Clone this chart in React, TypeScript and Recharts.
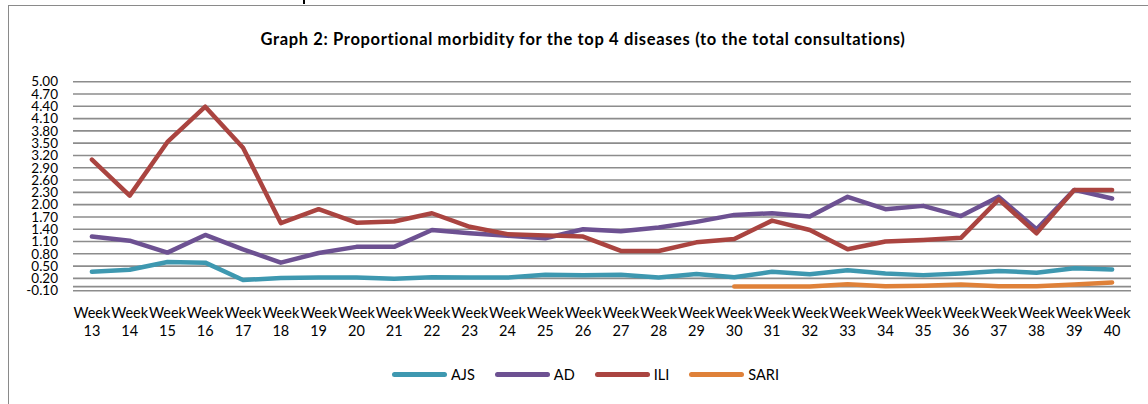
import React from 'react';
import {
  LineChart,
  Line,
  XAxis,
  YAxis,
  CartesianGrid,
  ReferenceLine,
} from 'recharts';

// 週ラベル（Week 13 〜 Week 40）
const weeks = [
  '13', '14', '15', '16', '17', '18', '19', '20', '21', '22', '23', '24', '25', '26',
  '27', '28', '29', '30', '31', '32', '33', '34', '35', '36', '37', '38', '39', '40',
];

const ajs = [
  0.36, 0.41, 0.6, 0.585, 0.16, 0.21, 0.22, 0.22, 0.19, 0.23, 0.22, 0.22, 0.29, 0.28,
  0.29, 0.22, 0.31, 0.23, 0.36, 0.3, 0.4, 0.32, 0.28, 0.32, 0.38, 0.34, 0.45, 0.42,
];

const ad = [
  1.22, 1.12, 0.83, 1.26, 0.91, 0.585, 0.82, 0.97, 0.97, 1.38, 1.3, 1.24, 1.18, 1.4,
  1.35, 1.44, 1.58, 1.75, 1.79, 1.71, 2.19, 1.89, 1.97, 1.72, 2.19, 1.4, 2.36, 2.15,
];

const ili = [
  3.1, 2.22, 3.53, 4.39, 3.39, 1.55, 1.89, 1.56, 1.59, 1.79, 1.46, 1.28, 1.25, 1.22,
  0.87, 0.87, 1.08, 1.16, 1.61, 1.38, 0.91, 1.1, 1.14, 1.19, 2.13, 1.3, 2.36, 2.36,
];

// SARI は Week 30 から
const sari = [
  null, null, null, null, null, null, null, null, null, null, null, null, null, null,
  null, null, null, 0.0, 0.0, 0.0, 0.06, 0.01, 0.02, 0.05, 0.01, 0.01, 0.05, 0.1,
];

const yTicks = [
  -0.1, 0.2, 0.5, 0.8, 1.1, 1.4, 1.7, 2.0, 2.3, 2.6, 2.9, 3.2, 3.5, 3.8, 4.1, 4.4, 4.7, 5.0,
];

const series = [
  { key: 'AJS', values: ajs, color: '#3E98B0' },
  { key: 'AD', values: ad, color: '#6D5192' },
  { key: 'ILI', values: ili, color: '#AA4440' },
  { key: 'SARI', values: sari, color: '#DF8139' },
];

const FONT = 'Lato, "Open Sans", sans-serif';
const GRID = '#8c8c8c';

const chartData = weeks.map((w, i) => {
  const row: Record<string, string | number | null> = { week: w };
  series.forEach((s) => {
    row[s.key] = s.values[i];
  });
  return row;
});

// 2段の週ラベル
function WeekTick(props: any) {
  const { x, y, payload } = props;
  return (
    <text x={x} y={y} textAnchor="middle" fill="#000" fontFamily={FONT} fontSize={14.5}>
      <tspan x={x} y={y + 19}>Week</tspan>
      <tspan x={x} y={y + 37}>{payload.value}</tspan>
    </text>
  );
}

export default function App() {
  return (
    <div
      style={{
        position: 'absolute',
        top: 0,
        left: 0,
        width: 1148,
        height: 404,
        background: '#fff',
        overflow: 'hidden',
        fontFamily: FONT,
      }}
    >
      {/* 枠線 */}
      <div style={{ position: 'absolute', left: 8, top: 4.5, width: 1140, height: 1.5, background: '#8a8a8a' }} />
      <div style={{ position: 'absolute', left: 7.5, top: 4.5, width: 1.5, height: 400, background: '#8a8a8a' }} />
      <div style={{ position: 'absolute', left: 303, top: 0, width: 1.5, height: 3.5, background: '#000' }} />

      <div
        style={{
          position: 'absolute',
          left: 583,
          top: 29,
          transform: 'translateX(-50%)',
          whiteSpace: 'nowrap',
          fontWeight: 700,
          fontSize: 16.5,
          letterSpacing: 0.65,
          color: '#000',
        }}
      >
        Graph 2: Proportional morbidity for the top 4 diseases (to the total consultations)
      </div>

      <div style={{ position: 'absolute', left: 0, top: 0 }}>
        <LineChart
          width={1148}
          height={404}
          data={chartData}
          margin={{ top: 81.7, right: 17, bottom: 73.3, left: 0 }}
        >
          <CartesianGrid vertical={false} stroke={GRID} strokeWidth={1.6} />
          <XAxis
            dataKey="week"
            height={40}
            axisLine={false}
            tickLine={false}
            interval={0}
            padding={{ left: 18.9, right: 18.9 }}
            tick={<WeekTick />}
          />
          <YAxis
            width={73}
            domain={[-0.1, 5]}
            ticks={yTicks}
            interval={0}
            axisLine={false}
            tickLine={false}
            tickMargin={9}
            tickFormatter={(v: number) => v.toFixed(2)}
            tick={{ fill: '#000', fontSize: 13.5, fontFamily: FONT }}
          />
          <ReferenceLine y={0} stroke={GRID} strokeWidth={1.6} />
          {series.map((s) => (
            <Line
              key={s.key}
              type="linear"
              dataKey={s.key}
              stroke={s.color}
              strokeWidth={4.5}
              strokeLinecap="round"
              strokeLinejoin="round"
              dot={false}
              activeDot={false}
              isAnimationActive={false}
            />
          ))}
        </LineChart>
      </div>

      {/* 凡例 */}
      <div
        style={{
          position: 'absolute',
          left: 0,
          top: 366,
          width: 1148,
          paddingLeft: 23,
          boxSizing: 'border-box',
          display: 'flex',
          justifyContent: 'center',
          gap: 20,
          fontSize: 14.5,
          color: '#000',
        }}
      >
        {series.map((s) => (
          <div key={s.key} style={{ display: 'flex', alignItems: 'center', gap: 4 }}>
            <div style={{ width: 55, height: 4.5, borderRadius: 3, background: s.color }} />
            <span>{s.key}</span>
          </div>
        ))}
      </div>
    </div>
  );
}
